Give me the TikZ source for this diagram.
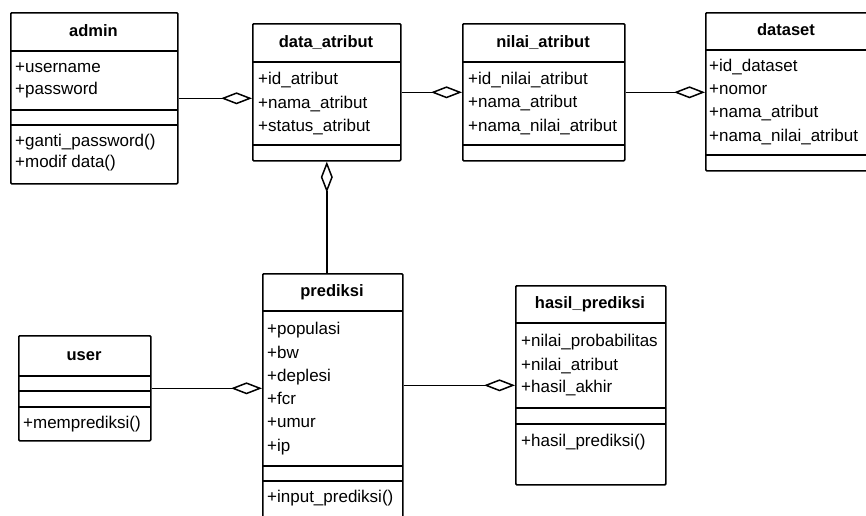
\documentclass[tikz,border=0pt]{standalone}
\usepackage{fontspec}
\setmainfont{Liberation Sans}
\usetikzlibrary{arrows.meta}
\tikzstyle{classbox} = [rectangle, draw, line width=1.6pt, rounded corners=1pt,
                 anchor=north west, inner sep=0pt]
\tikzstyle{classname} = [font=\fontsize{16.5}{19}\selectfont\bfseries,
                 text height=12pt, text depth=3pt, inner sep=0pt]
\tikzstyle{member} = [anchor=west, text height=12pt, text depth=3pt, inner sep=0pt]
\tikzstyle{sep} = [line width=1.6pt]
\tikzstyle{aggr} = [draw, line width=1.5pt, -{Diamond[open, length=31pt, width=12pt]}]

\begin{document}
\begin{tikzpicture}[x=1pt, y=-1pt, font=\fontsize{17}{19}\selectfont]
\useasboundingbox (0,0) rectangle (866,515);

% admin
\node [classbox, minimum width=167pt, minimum height=171pt] (admin) at (10,12) {};
\draw[sep] (10,51) -- (177,51) (10,110) -- (177,110) (10,125) -- (177,125);
\node [classname] (admin-name) at (93.5,31.5) {admin};
\foreach \y/\txt in {68/+username, 90/+password, 142/+ganti\_password(), 163/+modif data()}
	\node [member] (admin-\y) at (15,\y) {\txt};

% data_atribut
\node [classbox, minimum width=148pt, minimum height=137pt] (atribut) at (252,23) {};
\draw[sep] (252,62) -- (400,62) (252,145) -- (400,145);
\node [classname] (atribut-name) at (326,42.5) {data\_atribut};
\foreach \y/\txt in {80/+id\_atribut, 104/+nama\_atribut, 127/+status\_atribut}
	\node [member] (atribut-\y) at (258,\y) {\txt};

% nilai_atribut
\node [classbox, minimum width=162pt, minimum height=137pt] (nilai) at (462,23) {};
\draw[sep] (462,62) -- (624,62) (462,145) -- (624,145);
\node [classname] (nilai-name) at (543,42.5) {nilai\_atribut};
\foreach \y/\txt in {80/+id\_nilai\_atribut, 103/+nama\_atribut, 127/+nama\_nilai\_atribut}
	\node [member] (nilai-\y) at (468,\y) {\txt};

% dataset
\node [classbox, minimum width=163pt, minimum height=158pt] (dataset) at (705,12) {};
\draw[sep] (705,50) -- (868,50) (705,155) -- (868,155);
\node [classname] (dataset-name) at (786,31) {dataset};
\foreach \y/\txt in {67/+id\_dataset, 90/+nomor, 113/+nama\_atribut, 137/+nama\_nilai\_atribut}
	\node [member] (dataset-\y) at (709,\y) {\txt};

% prediksi
\node [classbox, minimum width=140pt, minimum height=245pt] (prediksi) at (262,273) {};
\draw[sep] (262,311) -- (402,311) (262,466) -- (402,466) (262,481) -- (402,481);
\node [classname] (prediksi-name) at (332,292) {prediksi};
\foreach \y/\txt in {330/+populasi, 354/+bw, 377/+deplesi, 400/+fcr, 423/+umur, 447/+ip, 498/+input\_prediksi()}
	\node [member] (prediksi-\y) at (267,\y) {\txt};

% user
\node [classbox, minimum width=132pt, minimum height=105pt] (user) at (18,335) {};
\draw[sep] (18,376) -- (150,376) (18,391) -- (150,391) (18,407) -- (150,407);
\node [classname] (user-name) at (84,356) {user};
\node [member] (user-424) at (23,424) {+memprediksi()};

% hasil_prediksi
\node [classbox, minimum width=150pt, minimum height=199pt] (hasil) at (515,285) {};
\draw[sep] (515,323) -- (665,323) (515,408) -- (665,408) (515,424) -- (665,424);
\node [classname] (hasil-name) at (590,304) {hasil\_prediksi};
\foreach \y/\txt in {342/+nilai\_probabilitas, 366/+nilai\_atribut, 388/+hasil\_akhir, 442/+hasil\_prediksi()}
	\node [member] (hasil-\y) at (521,\y) {\txt};

% aggregations
\draw[aggr] (admin.east) -- (admin.east -| atribut.west);
\draw[aggr] (atribut.east) -- (atribut.east -| nilai.west);
\draw[aggr] (nilai.east) -- (nilai.east -| dataset.west);
\draw[aggr] (prediksi.north -| atribut.south) -- (atribut.south);
\draw[aggr] (user.east) -- (user.east -| prediksi.west);
\draw[aggr] (prediksi.east |- hasil.west) -- (hasil.west);

\end{tikzpicture}
\end{document}
